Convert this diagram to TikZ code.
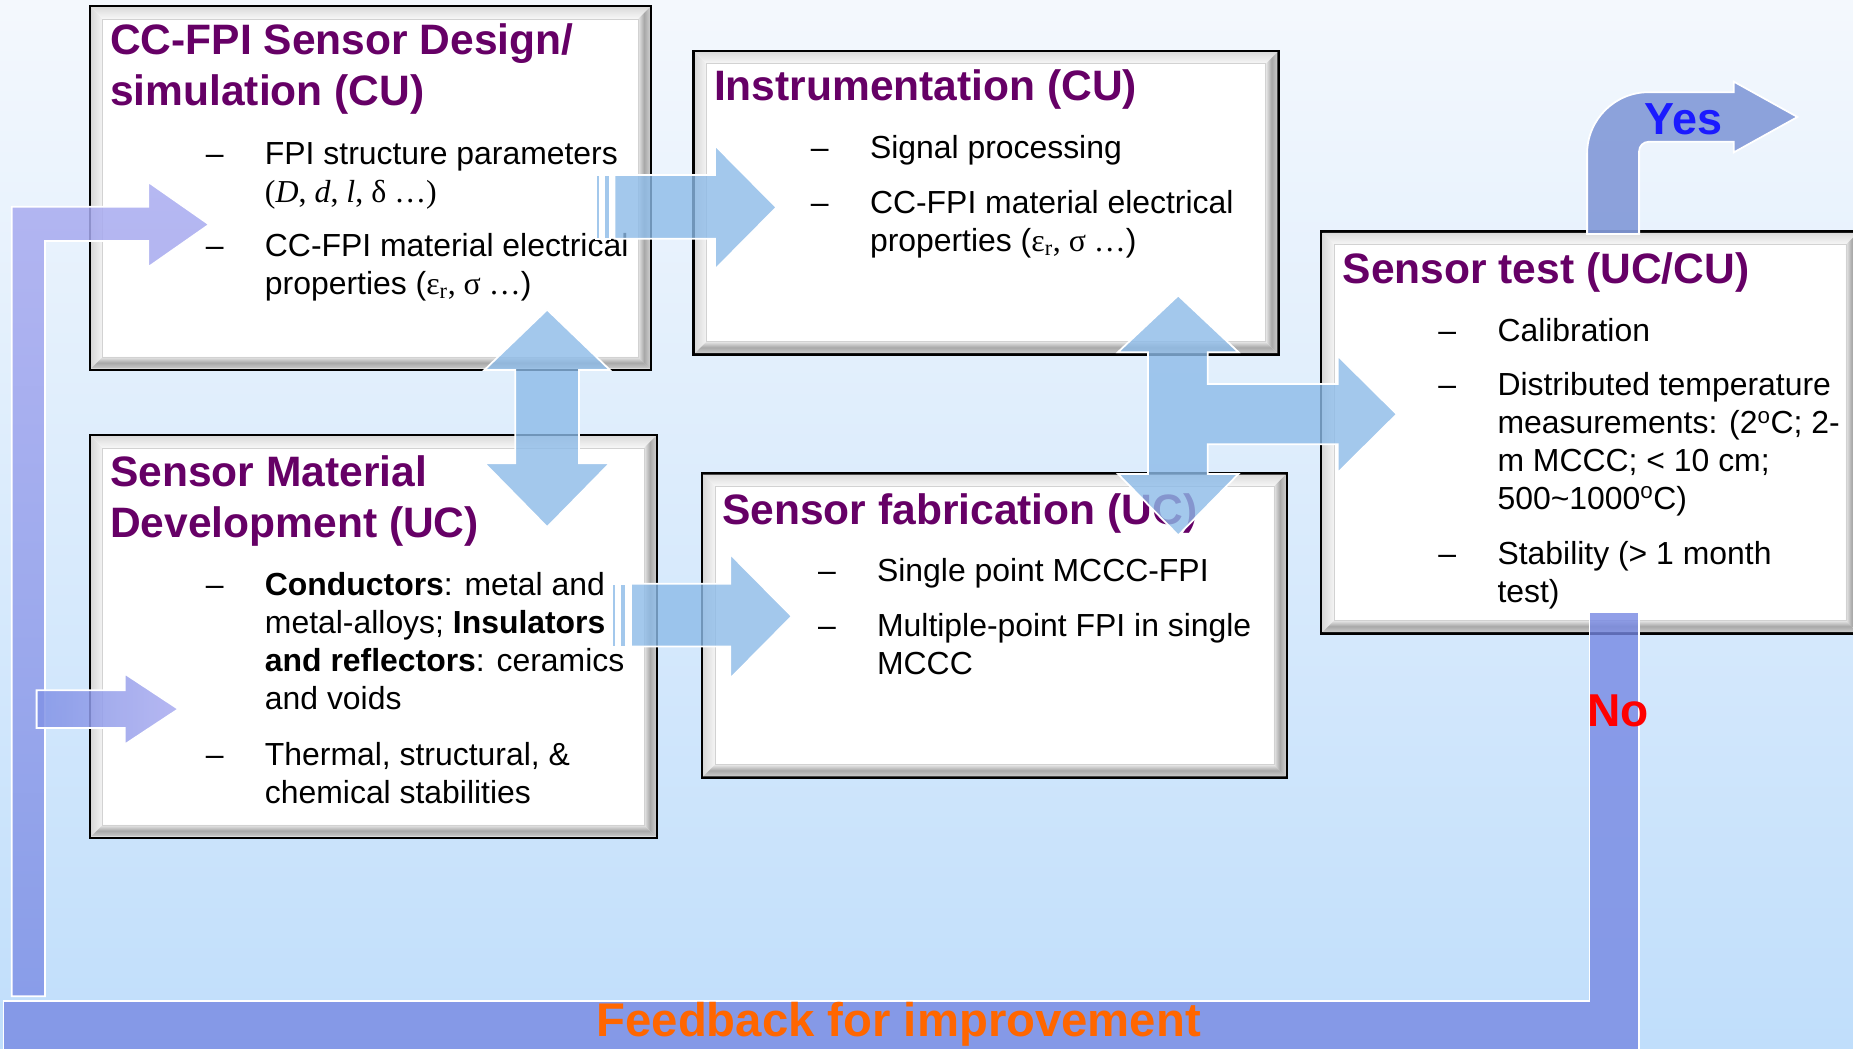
\documentclass[tikz,border=0pt]{standalone}
\usepackage{fontspec}
\setmainfont{Liberation Sans}
\newfontfamily\tnr{Liberation Serif}
\usetikzlibrary{calc}
\definecolor{ttlc}{RGB}{102,0,102}
\definecolor{bgtop}{RGB}{244,248,253}
\definecolor{bgbot}{RGB}{192,222,251}
\definecolor{lblue}{RGB}{141,187,232}
\definecolor{fbband}{RGB}{118,136,227}
\definecolor{fbtop}{RGB}{170,172,240}
\definecolor{fbbot}{RGB}{128,146,230}
\definecolor{yesc}{RGB}{132,155,217}
\definecolor{orng}{RGB}{255,102,0}
\definecolor{yesblue}{RGB}{26,26,255}
\newcommand\bevelframe[1]{%
  \coordinate (o1) at ($(#1.north west)+(1.1,1.1)$);
  \coordinate (o2) at ($(#1.north east)+(-1.1,1.1)$);
  \coordinate (o3) at ($(#1.south east)+(-1.1,-1.1)$);
  \coordinate (o4) at ($(#1.south west)+(1.1,-1.1)$);
  \coordinate (i1) at ($(#1.north west)+(11,11)$);
  \coordinate (i2) at ($(#1.north east)+(-11,11)$);
  \coordinate (i3) at ($(#1.south east)+(-11,-11)$);
  \coordinate (i4) at ($(#1.south west)+(11,-11)$);
  \shade[top color=gray!28, bottom color=gray!6] (o1) -- (o2) -- (i2) -- (i1) -- cycle;
  \shade[left color=gray!30, right color=gray!8] (o1) -- (i1) -- (i4) -- (o4) -- cycle;
  \shade[left color=gray!18, right color=gray!40, middle color=gray!68] (i2) -- (o2) -- (o3) -- (i3) -- cycle;
  \shade[top color=gray!18, bottom color=gray!40, middle color=gray!68] (i4) -- (i3) -- (o3) -- (o4) -- cycle;
  \draw[gray!35, line width=0.6] (i1) rectangle (i3);
}
\tikzset{
  box/.style={draw=black, line width=2.2, fill=white, outer sep=0pt, inner sep=0pt, anchor=north west},
  ttl/.style={anchor=base west, inner sep=0pt, text=ttlc, font=\fontsize{36}{43}\selectfont\bfseries},
  txt/.style={anchor=base west, inner sep=0pt, font=\fontsize{27}{32}\selectfont},
  dsh/.style={anchor=base west, inner sep=0pt, font=\fontsize{27}{32}\selectfont},
  barrow/.style={fill=lblue, fill opacity=0.8, draw=white, line width=1.5, line join=miter},
  parrow/.style={fill opacity=0.85, draw=white, line width=1.5, line join=miter},
}
\begin{document}
\begin{tikzpicture}[x=1pt,y=-1pt]
\useasboundingbox (0,0) rectangle (1568,887);
\clip (0,0) rectangle (1568,887);
\shade[top color=bgtop, bottom color=bgbot] (0,0) rectangle (1568,887);

% ---- boxes ----
\node[box, minimum width=475, minimum height=308] (b1) at (76,5) {};
\bevelframe{b1}
\node[box, minimum width=495, minimum height=257] (b2) at (587,43) {};
\bevelframe{b2}
\node[box, minimum width=455, minimum height=340] (b3) at (1118,196) {};
\bevelframe{b3}
\node[box, minimum width=480, minimum height=341] (b4) at (76,368) {};
\bevelframe{b4}
\node[box, minimum width=495, minimum height=257.5] (b5) at (594,400.5) {};
\bevelframe{b5}

% ---- box texts ----
\node[ttl] (t1) at (93,46.5) {\parbox[t]{460pt}{CC-FPI Sensor Design/\\simulation (CU)}};
\node[dsh] (d11) at (174,139.5) {–};
\node[txt] (x11) at (224,139.5) {\parbox[t]{400pt}{FPI structure parameters\\{\tnr(\textit{D}, \textit{d}, \textit{l}, δ …)}}};
\node[dsh] (d12) at (174,217) {–};
\node[txt] (x12) at (224,217) {\parbox[t]{400pt}{CC-FPI material electrical\\properties ({\tnr ε\textsubscript{r}, σ …})}};

\node[ttl] (t2) at (604,85) {Instrumentation (CU)};
\node[dsh] (d21) at (686,134) {–};
\node[txt] (x21) at (736,134) {Signal processing};
\node[dsh] (d22) at (686,180.5) {–};
\node[txt] (x22) at (736,180.5) {\parbox[t]{400pt}{CC-FPI material electrical\\properties ({\tnr ε\textsubscript{r}, σ …})}};

\node[ttl] (t3) at (1136,240) {Sensor test (UC/CU)};
\node[dsh] (d31) at (1217,289) {–};
\node[txt] (x31) at (1267,289) {Calibration};
\node[dsh] (d32) at (1217,335) {–};
\node[txt] (x32) at (1267,335) {\parbox[t]{400pt}{Distributed temperature\\measurements: (2\textsuperscript{o}C; 2-\\m MCCC; < 10 cm;\\500\textasciitilde1000\textsuperscript{o}C)}};
\node[dsh] (d33) at (1217,478) {–};
\node[txt] (x33) at (1267,478) {\parbox[t]{400pt}{Stability (> 1 month\\test)}};

\node[ttl] (t4) at (93,412) {\parbox[t]{460pt}{Sensor Material\\Development (UC)}};
\node[dsh] (d41) at (174,504) {–};
\node[txt] (x41) at (224,504) {\parbox[t]{400pt}{\textbf{Conductors}: metal and\\metal-alloys; \textbf{Insulators}\\\textbf{and reflectors}: ceramics\\and voids}};
\node[dsh] (d42) at (174,648) {–};
\node[txt] (x42) at (224,648) {\parbox[t]{400pt}{Thermal, structural, \&\\chemical stabilities}};

\node[ttl] (t5) at (611,444) {Sensor fabrication (UC)};
\node[dsh] (d51) at (692,492) {–};
\node[txt] (x51) at (742,492) {Single point MCCC-FPI};
\node[dsh] (d52) at (692,539) {–};
\node[txt] (x52) at (742,539) {\parbox[t]{400pt}{Multiple-point FPI in single\\MCCC}};

% ---- blue block arrows ----
% design -> instrumentation (striped)
\path[barrow] (504,148) rectangle (507.5,202);
\path[barrow] (511,148) rectangle (516,202);
\path[barrow] (520,148) -- (605,148) -- (605,123) -- (657,175.5) -- (605,228) -- (605,202) -- (520,202) -- cycle;
% material -> fabrication (striped)
\path[barrow] (518,494) rectangle (521,547);
\path[barrow] (525,494) rectangle (530,547);
\path[barrow] (534,494) -- (618,494) -- (618,469) -- (670,521.5) -- (618,574) -- (618,547) -- (534,547) -- cycle;
% design <-> material
\path[barrow] (463,262) -- (516,313) -- (490,313) -- (490,392) -- (516,392) -- (463,446)
  -- (410,392) -- (436,392) -- (436,313) -- (410,313) -- cycle;
% instrumentation / fabrication -> test
\path[barrow] (997,250) -- (1048,298) -- (1022,298) -- (1022,325) -- (1132,325) -- (1132,301)
  -- (1182,350.5) -- (1132,400) -- (1132,376) -- (1022,376) -- (1022,401) -- (1048,401)
  -- (997,453) -- (946,401) -- (971.5,401) -- (971.5,298) -- (946,298) -- cycle;

% ---- purple feedback arrows ----
\path[fill=fbband, fill opacity=0.8, draw=white, line width=1.5]
  (1345,518) -- (1387,518) -- (1387,895) -- (3,895) -- (3,847) -- (1345,847) -- cycle;
\shade[parrow, top color=fbtop, bottom color=fbbot]
  (10,843) -- (10,175) -- (125.5,175) -- (125.5,154) -- (177,190) -- (125.5,226) -- (125.5,204)
  -- (38,204) -- (38,843) -- cycle;
\shade[parrow, left color=fbbot, right color=fbtop]
  (31,584) -- (105.5,584) -- (105.5,570) -- (151,600) -- (105.5,630) -- (105.5,616) -- (31,616) -- cycle;
% Yes arrow
\path[parrow, fill=yesc, fill opacity=0.92]
  (1343,198) -- (1343,130) arc[start angle=180, end angle=270, radius=52] -- (1467,78) -- (1467,69)
  -- (1521,99) -- (1467,129) -- (1467,120) -- (1395,120) arc[start angle=270, end angle=180, radius=8]
  -- (1387,198) -- cycle;

% ---- labels ----
\node[anchor=base, inner sep=0pt, font=\fontsize{38}{40}\selectfont\bfseries, text=yesblue] (yes) at (1424.5,114) {Yes};
\node[anchor=base, inner sep=0pt, font=\fontsize{39}{40}\selectfont\bfseries, text=red] (no) at (1369,615) {No};
\node[anchor=base, inner sep=0pt, font=\fontsize{40}{44}\selectfont\bfseries, text=orng] (fb) at (760.5,877) {Feedback for improvement};
\end{tikzpicture}
\end{document}
